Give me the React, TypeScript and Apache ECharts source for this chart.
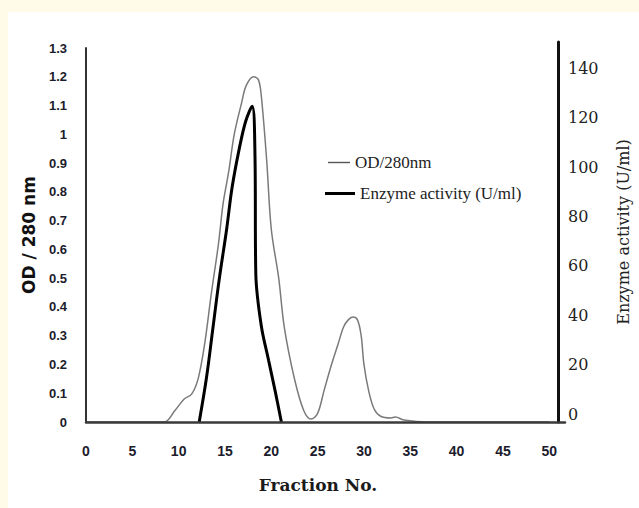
import React, { useEffect, useRef } from "react";
import * as echarts from "echarts";

// Fraction numbers and OD at 280 nm (left axis)
const odFraction = [0, 8.4, 9.6, 10.6, 11.4, 12.1, 12.8, 13.5, 14.3, 14.8, 15.4, 16.0, 16.8, 17.3, 18.1, 18.6, 18.9, 19.5, 20.0, 20.8, 21.4, 22.5, 23.5, 24.3, 25.0, 25.7, 26.5, 27.2, 27.8, 28.3, 28.8, 29.3, 29.7, 30.0, 30.5, 31.1, 31.8, 32.9, 33.4, 34.3, 36.9, 50];
const odValue = [0, 0, 0.04, 0.08, 0.097, 0.15, 0.27, 0.44, 0.62, 0.76, 0.87, 1.0, 1.11, 1.17, 1.2, 1.19, 1.14, 0.91, 0.67, 0.5, 0.33, 0.15, 0.04, 0.01, 0.03, 0.11, 0.2, 0.27, 0.33, 0.355, 0.365, 0.355, 0.3, 0.2, 0.11, 0.045, 0.02, 0.014, 0.017, 0.007, 0, 0];

// Fraction numbers and enzyme activity in U/ml (right axis)
const enzFraction = [12.4, 13.2, 13.9, 14.6, 15.4, 16.0, 16.8, 17.5, 18.2, 18.5, 18.6, 19.2, 20.0, 20.75, 21.4];
const enzValue = [0, 18, 38, 58, 78, 95, 111, 122, 128, 110, 60, 39, 25, 12, 0];

const xTicks = [0, 5, 10, 15, 20, 25, 30, 35, 40, 45, 50];
const rightTicks = [0, 20, 40, 60, 80, 100, 120, 140];

const OD_NAME = "OD/280nm";
const ENZ_NAME = "Enzyme activity (U/ml)";

export default function App() {
  const ref = useRef<HTMLDivElement>(null);
  useEffect(() => {
    if (!ref.current) return;
    const chart = echarts.init(ref.current, null, { renderer: "svg" });
    const odData = odFraction.map((f, i) => [f, odValue[i]]);
    const enzData = enzFraction.map((f, i) => [f, enzValue[i]]);
    chart.setOption({
      animation: false,
      backgroundColor: "#ffffff",
      graphic: [
        { type: "rect", shape: { x: 0, y: 0, width: 639, height: 12 }, style: { fill: "#fffbe8" }, silent: true },
        { type: "rect", shape: { x: 0, y: 0, width: 8, height: 508 }, style: { fill: "#fffbe8" }, silent: true },
      ],
      grid: [
        { left: 86, right: 74, top: 48, bottom: 86 },
        { left: 86, right: 74, top: 42, bottom: 86 },
      ],
      legend: [
        {
          data: [OD_NAME],
          left: 328,
          top: 154,
          padding: 0,
          orient: "vertical",
          icon: "rect",
          itemWidth: 22,
          itemHeight: 1.4,
          itemStyle: { color: "#555" },
          textStyle: { fontFamily: "Liberation Serif", fontSize: 17, color: "#222" },
        },
        {
          data: [ENZ_NAME],
          left: 325,
          top: 185,
          padding: 0,
          orient: "vertical",
          icon: "rect",
          itemWidth: 30,
          itemHeight: 3,
          itemStyle: { color: "#000" },
          textStyle: { fontFamily: "Liberation Serif", fontSize: 17, color: "#222" },
        },
      ],
      xAxis: [
        {
          type: "value",
          gridIndex: 0,
          min: 0,
          max: 51.7,
          z: 10,
          name: "Fraction No.",
          nameLocation: "middle",
          nameGap: 54,
          nameTextStyle: {
            fontFamily: "DejaVu Serif",
            fontWeight: "bold",
            fontSize: 17,
            color: "#1a1a1a",
            padding: [0, 15, 0, 0],
          },
          axisLine: { onZero: false, lineStyle: { color: "#3a3a3a", width: 2.5 } },
          axisTick: { show: false },
          splitLine: { show: false },
          axisLabel: {
            customValues: xTicks,
            margin: 22,
            fontFamily: "Liberation Sans",
            fontWeight: "bold",
            fontSize: 14,
            color: "#1c1c2c",
          },
        },
        {
          type: "value",
          gridIndex: 1,
          min: 0,
          max: 51.7,
          show: false,
          axisLine: { onZero: false },
          splitLine: { show: false },
        },
      ],
      yAxis: [
        {
          type: "value",
          gridIndex: 0,
          min: 0,
          max: 1.3,
          interval: 0.1,
          position: "left",
          z: 10,
          name: "OD / 280 nm",
          nameLocation: "middle",
          nameGap: 49,
          nameTextStyle: {
            fontFamily: "DejaVu Sans",
            fontWeight: "bold",
            fontSize: 17,
            color: "#111",
          },
          axisLine: { show: true, onZero: false, lineStyle: { color: "#333", width: 2 } },
          axisTick: { show: false },
          splitLine: { show: false },
          axisLabel: {
            margin: 19,
            fontFamily: "Liberation Sans",
            fontWeight: "bold",
            fontSize: 13,
            color: "#1c1c2c",
          },
        },
        {
          type: "value",
          gridIndex: 1,
          min: 0,
          max: 154,
          position: "right",
          z: 10,
          name: ENZ_NAME,
          nameLocation: "middle",
          nameGap: 57,
          nameTextStyle: {
            fontFamily: "DejaVu Serif",
            fontSize: 16,
            color: "#222",
          },
          axisLine: { show: true, onZero: false, lineStyle: { color: "#111", width: 3 } },
          axisTick: { show: false },
          splitLine: { show: false },
          axisLabel: {
            customValues: rightTicks,
            margin: 10,
            verticalAlign: "bottom",
            fontFamily: "DejaVu Serif",
            fontSize: 16,
            color: "#222",
          },
        },
      ],
      series: [
        {
          name: OD_NAME,
          type: "line",
          xAxisIndex: 0,
          yAxisIndex: 0,
          data: odData,
          smooth: 0.35,
          symbol: "none",
          lineStyle: { color: "#7a7a7a", width: 1.5 },
          itemStyle: { color: "#7a7a7a" },
        },
        {
          name: ENZ_NAME,
          type: "line",
          xAxisIndex: 1,
          yAxisIndex: 1,
          data: enzData,
          smooth: 0.35,
          symbol: "none",
          lineStyle: { color: "#000", width: 3 },
          itemStyle: { color: "#000" },
        },
      ],
    });
    return () => chart.dispose();
  }, []);
  return (
    <div
      ref={ref}
      style={{ position: "absolute", left: 0, top: 0, width: 639, height: 508 }}
    />
  );
}
